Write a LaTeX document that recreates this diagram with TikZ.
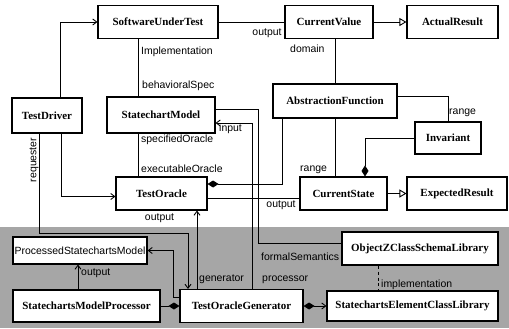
\documentclass[tikz,border=0pt]{standalone}
\usepackage{fontspec}
\setmainfont{Liberation Serif}
\setsansfont{Liberation Sans}
\usetikzlibrary{arrows.meta}
\begin{document}
\begin{tikzpicture}[x=1bp,y=-1bp,
  box/.style={draw,line width=1.1bp,fill=white,inner sep=0pt,font=\rmfamily\bfseries\fontsize{11}{13}\selectfont},
  sbox/.style={draw,line width=1.1bp,fill=white,inner sep=0pt,font=\sffamily\fontsize{10.5}{12}\selectfont},
  lbl/.style={font=\sffamily\fontsize{10.5}{12}\selectfont,inner sep=0pt},
  conn/.style={line width=0.9bp},
  arr/.style={conn,-{Straight Barb[length=4bp,width=6bp]}},
  gen/.style={conn,-{Triangle[open,length=7bp,width=8bp]}},
  dia/.style={conn,-{Diamond[length=11bp,width=7bp]}},
  diaarr/.style={conn,{Diamond[length=11bp,width=7bp]}-{Straight Barb[length=4bp,width=6bp]}}
]
\useasboundingbox (0,0) rectangle (509,328);
% gray band
\fill[black!35] (0,227) rectangle (509,328);

% nodes
\node[box,minimum width=120bp,minimum height=33bp] (sut) at (158,22) {SoftwareUnderTest};
\node[box,minimum width=88bp,minimum height=33bp] (cv) at (329,22) {CurrentValue};
\node[box,minimum width=91bp,minimum height=33bp] (ar) at (452.5,22) {ActualResult};
\node[box,minimum width=70bp,minimum height=35bp] (td) at (47,115.5) {TestDriver};
\node[box,minimum width=108bp,minimum height=36bp] (sm) at (161,115) {StatechartModel};
\node[box,minimum width=124bp,minimum height=34bp] (af) at (335,101) {AbstractionFunction};
\node[box,minimum width=66bp,minimum height=32bp] (inv) at (448,138) {Invariant};
\node[box,minimum width=91bp,minimum height=33bp] (to) at (161.5,193.5) {TestOracle};
\node[box,minimum width=87bp,minimum height=33bp] (cs) at (343.5,193.5) {CurrentState};
\node[box,minimum width=100bp,minimum height=33bp] (er) at (457,193.5) {ExpectedResult};
\node[sbox,minimum width=134bp,minimum height=27bp] (psm) at (80,250.5) {ProcessedStatechartsModel};
\node[box,minimum width=156bp,minimum height=33bp] (oz) at (420,248.5) {ObjectZClassSchemaLibrary};
\node[box,minimum width=147bp,minimum height=32bp] (smp) at (86.5,306) {StatechartsModelProcessor};
\node[box,minimum width=123bp,minimum height=33bp] (tog) at (241.5,306) {TestOracleGenerator};
\node[box,minimum width=171bp,minimum height=30bp] (secl) at (412.5,306) {StatechartsElementClassLibrary};

% connectors
\draw[arr] ([xshift=13bp]td.north) |- (sut.west);
\draw[conn] (sut.east) -- (cv.west);
\draw[gen] (cv.east) -- (ar.west);
\draw[gen] (cs.east) -- (er.west);
\draw[conn] ([xshift=-20bp]sut.south) -- ([xshift=-20bp]sut.south |- sm.north);
\draw[conn] ([xshift=-23bp]sm.south) -- ([xshift=-23bp]sm.south |- to.north);
\draw[conn] ([xshift=6bp]cv.south) -- ([xshift=6bp]cv.south |- af.north);
\draw[conn] ([yshift=5bp]af.east) -| (inv.north);
\draw[conn] (af.south) -- (af.south |- cs.north);
\draw[dia] (inv.west) -| ([xshift=21.5bp]cs.north);
\draw[dia] ([xshift=-53bp]af.south) |- ([yshift=9.5bp]to.east);
\draw[conn] ([yshift=-5bp]to.east) -- ([yshift=-5bp]cs.west);
\draw[arr] ([xshift=14bp]td.south) |- ([yshift=-3bp]to.west);
\coordinate (rq) at (188,233);
\draw[arr] ([xshift=-8bp]td.south) |- (rq) -- (rq |- tog.north);
\draw[arr] ([xshift=-44.5bp]tog.north) -- ([xshift=-44.5bp]tog.north |- to.south);
\draw[arr] ([xshift=10.5bp]tog.north) |- ([yshift=-8bp]sm.east);
\draw[conn] ([yshift=6bp]sm.east) -| ([xshift=-83bp,yshift=5.5bp]oz.west) -- ([yshift=5.5bp]oz.west);
\draw[arr] ([yshift=9bp]tog.west) -| ([xshift=26bp]psm.east) -- (psm.east);
\draw[dia] (smp.east) -- (tog.west);
\draw[arr] ([xshift=-8.5bp]smp.north) -- ([xshift=-8.5bp]smp.north |- psm.south);
\draw[diaarr] (tog.east) -- (secl.west);
\draw[conn,dashed] ([xshift=-42bp]oz.south) -- ([xshift=-42bp]oz.south |- secl.north);

% labels
\node[lbl,anchor=west] (l1) at (141,52) {Implementation};
\node[lbl,anchor=west] (l2) at (142,86) {behavioralSpec};
\node[lbl] (l3) at (267,33) {output};
\node[lbl,anchor=west] (l4) at (290,49) {domain};
\node[lbl,anchor=west] (l5) at (449,113) {range};
\node[lbl,anchor=west] (l6) at (300,170) {range};
\node[lbl,anchor=west] (l7) at (219,129) {input};
\node[lbl,anchor=west] (l8) at (141,140) {specifiedOracle};
\node[lbl,anchor=west] (l9) at (141,169) {executableOracle};
\node[lbl,rotate=90] (l10) at (34,160) {requester};
\node[lbl] (l11) at (281,205) {output};
\node[lbl] (l12) at (159.5,218) {output};
\node[lbl,anchor=west] (l13) at (261,257) {formalSemantics};
\node[lbl,anchor=west] (l14) at (199,279) {generator};
\node[lbl,anchor=west] (l15) at (262,280) {processor};
\node[lbl,anchor=west] (l16) at (81,273) {output};
\node[lbl,anchor=west] (l17) at (381,285) {implementation};
\end{tikzpicture}
\end{document}
